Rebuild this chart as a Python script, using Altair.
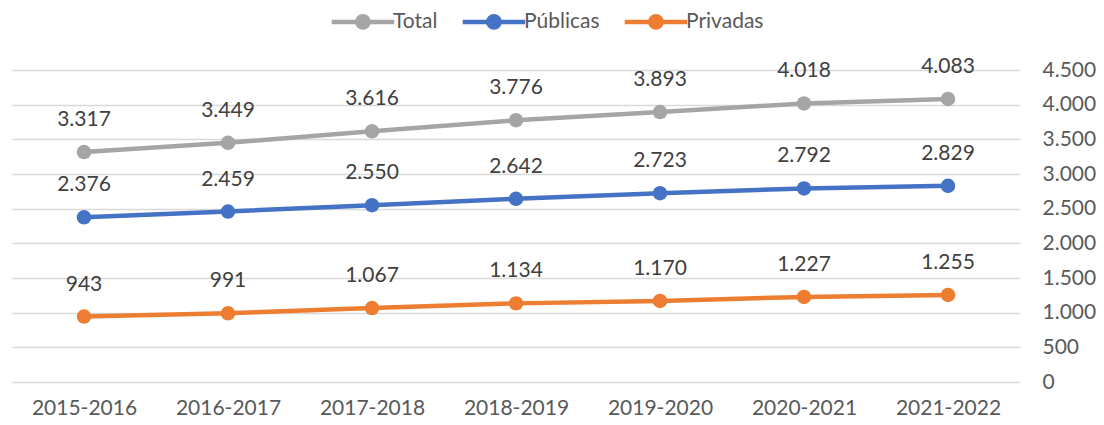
import altair as alt
import pandas as pd

years = ["2015-2016", "2016-2017", "2017-2018", "2018-2019", "2019-2020", "2020-2021", "2021-2022"]
total = [3317, 3449, 3616, 3776, 3893, 4018, 4083]
publicas = [2376, 2459, 2550, 2642, 2723, 2792, 2829]
privadas = [943, 991, 1067, 1134, 1170, 1227, 1255]

series = ["Total", "Públicas", "Privadas"]
colors = ["#A5A5A5", "#4472C4", "#ED7D31"]

rows = []
for name, vals in zip(series, [total, publicas, privadas]):
    for y, v in zip(years, vals):
        rows.append({"curso": y, "serie": name, "valor": v})
df = pd.DataFrame(rows)

FONT = "Lato"
FS = 21

color = alt.Color(
    "serie:N",
    scale=alt.Scale(domain=series, range=colors),
    sort=series,
    legend=alt.Legend(
        title=None,
        orient="none",
        legendX=314,
        legendY=-82,
        direction="horizontal",
        symbolType="M-0.89,0H1.11M-0.07,0A0.18,0.18,0,1,1,0.29,0A0.18,0.18,0,1,1,-0.07,0Z",
        symbolSize=3900,
        symbolStrokeWidth=4.5,
        labelFont=FONT,
        labelFontSize=21,
        labelColor="#595959",
        labelOffset=0,
        columnPadding=15,
    ),
)

x = alt.X(
    "curso:N",
    sort=years,
    scale=alt.Scale(paddingOuter=0.5),
    axis=alt.Axis(
        title=None,
        labelAngle=0,
        ticks=False,
        domain=False,
        grid=False,
        labelFont=FONT,
        labelFontSize=FS,
        labelColor="#595959",
        labelPadding=15,
    ),
)

y = alt.Y(
    "valor:Q",
    scale=alt.Scale(domain=[0, 4500]),
    axis=alt.Axis(
        title=None,
        orient="right",
        values=list(range(0, 4501, 500)),
        labelExpr="replace(format(datum.value, ','), ',', '.')",
        ticks=False,
        domain=False,
        grid=True,
        gridColor="#D9D9D9",
        gridWidth=1.5,
        labelFont=FONT,
        labelFontSize=FS,
        labelColor="#595959",
        labelAlign="left",
        labelPadding=22,
    ),
)

base = alt.Chart(df)

lines = base.mark_line(strokeWidth=4.5).encode(x=x, y=y, color=color)
points = base.mark_point(filled=True, size=210, opacity=1).encode(x=x, y=y, color=color)
labels = base.transform_calculate(
    etiqueta="replace(format(datum.valor, ','), ',', '.')"
).mark_text(dy=-32, font=FONT, fontSize=FS, color="#404040").encode(
    x=x, y=y, text="etiqueta:N"
)

chart = alt.layer(lines, points, labels).properties(
    width=1008,
    height=312,
    autosize=alt.AutoSizeParams(type="none"),
    padding={"left": 4, "top": 62, "right": 76, "bottom": 38},
).configure_view(stroke=None)

chart.save("out.html", embed_options={"renderer": "svg", "actions": False})
